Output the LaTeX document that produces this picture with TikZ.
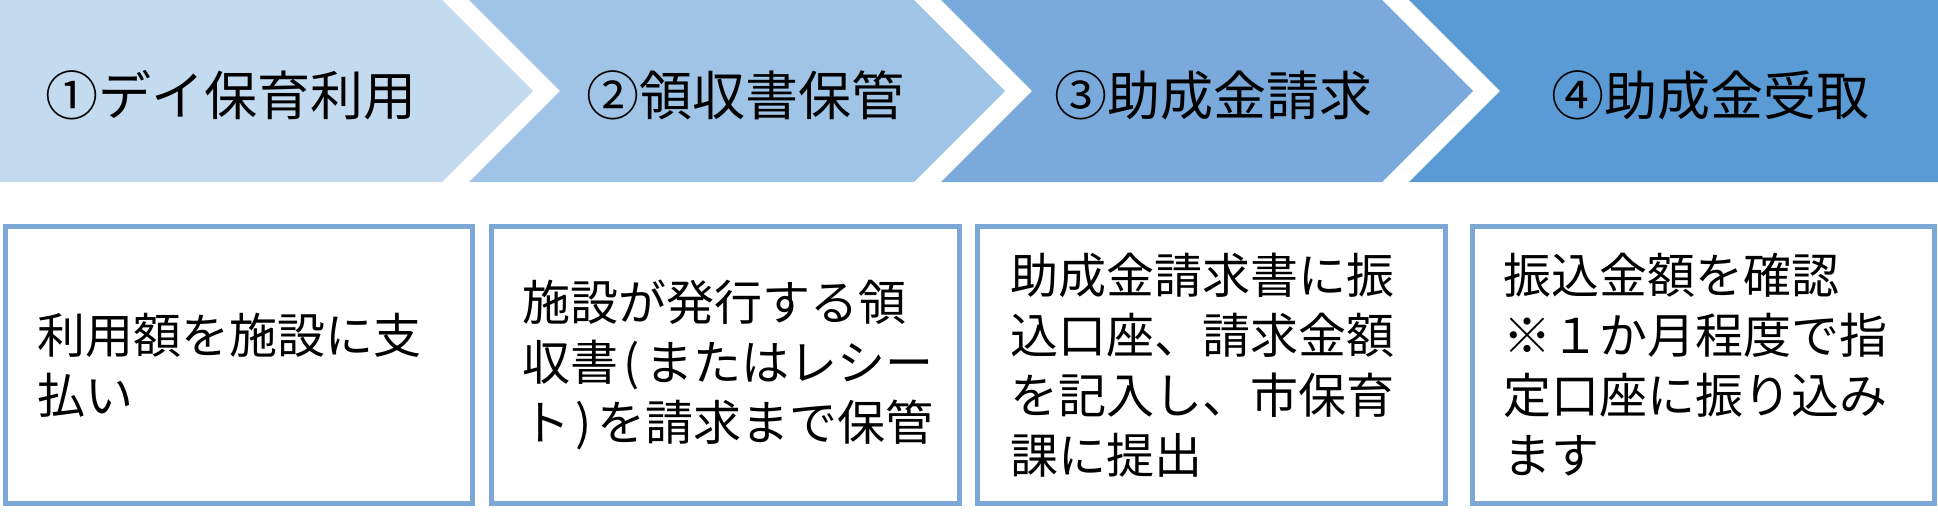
\documentclass[tikz,border=0pt]{standalone}
\usepackage{fontspec}
\setmainfont{Noto Sans CJK JP}
\definecolor{aone}{HTML}{C4DAEF}
\definecolor{atwo}{HTML}{9FC4E6}
\definecolor{athree}{HTML}{7AAADB}
\definecolor{afour}{HTML}{5B9BD5}
\definecolor{boxline}{HTML}{7CA8D8}
\tikzset{
  headtext/.style={anchor=base, inner sep=0pt, font=\fontsize{53}{60}\selectfont, text=black},
  infobox/.style={draw=boxline, line width=5pt, fill=white, anchor=north west, inner sep=0pt},
  infotext/.style={anchor=west, inner sep=0pt, align=left, font=\fontsize{48}{60}\selectfont, text=black}
}
\begin{document}
\begin{tikzpicture}[x=1pt,y=-1pt]
\useasboundingbox (0,0) rectangle (1938,514);
% chevrons
\fill[aone]   (0,0) -- (442,0) -- (533,91) -- (442,182) -- (0,182) -- cycle;
\fill[atwo]   (469,0) -- (914,0) -- (1005,91) -- (914,182) -- (469,182) -- (560,91) -- cycle;
\fill[athree] (941,0) -- (1382,0) -- (1473,91) -- (1382,182) -- (941,182) -- (1032,91) -- cycle;
\fill[afour]  (1409,0) -- (1938,0) -- (1938,182) -- (1409,182) -- (1500,91) -- cycle;
\node[headtext] (h1) at (231,115) {①デイ保育利用};
\node[headtext] (h2) at (745,115) {②領収書保管};
\node[headtext] (h3) at (1213,115) {③助成金請求};
\node[headtext] (h4) at (1710,115) {④助成金受取};
% boxes
\node[infobox, minimum width=467pt, minimum height=277pt] (b1) at (3,224) {};
\node[infobox, minimum width=468pt, minimum height=277pt] (b2) at (489,224) {};
\node[infobox, minimum width=468pt, minimum height=277pt] (b3) at (975,224) {};
\node[infobox, minimum width=462pt, minimum height=277pt] (b4) at (1470,224) {};
\node[infotext] (t1) at ([xshift=34pt]b1.west) {利用額を施設に支\\払い};
\node[infotext] (t2) at ([xshift=33pt]b2.west) {施設が発行する領\\収書\hspace{0.12em}(\hspace{0.12em}またはレシー\\ト\hspace{0.12em})\hspace{0.12em}を請求まで保管};
\node[infotext] (t3) at ([xshift=35pt]b3.west) {助成金請求書に振\\込口座、請求金額\\を記入し、市保育\\課に提出};
\node[infotext] (t4) at ([xshift=33pt]b4.west) {振込金額を確認\\※１か月程度で指\\定口座に振り込み\\ます};
\end{tikzpicture}
\end{document}
